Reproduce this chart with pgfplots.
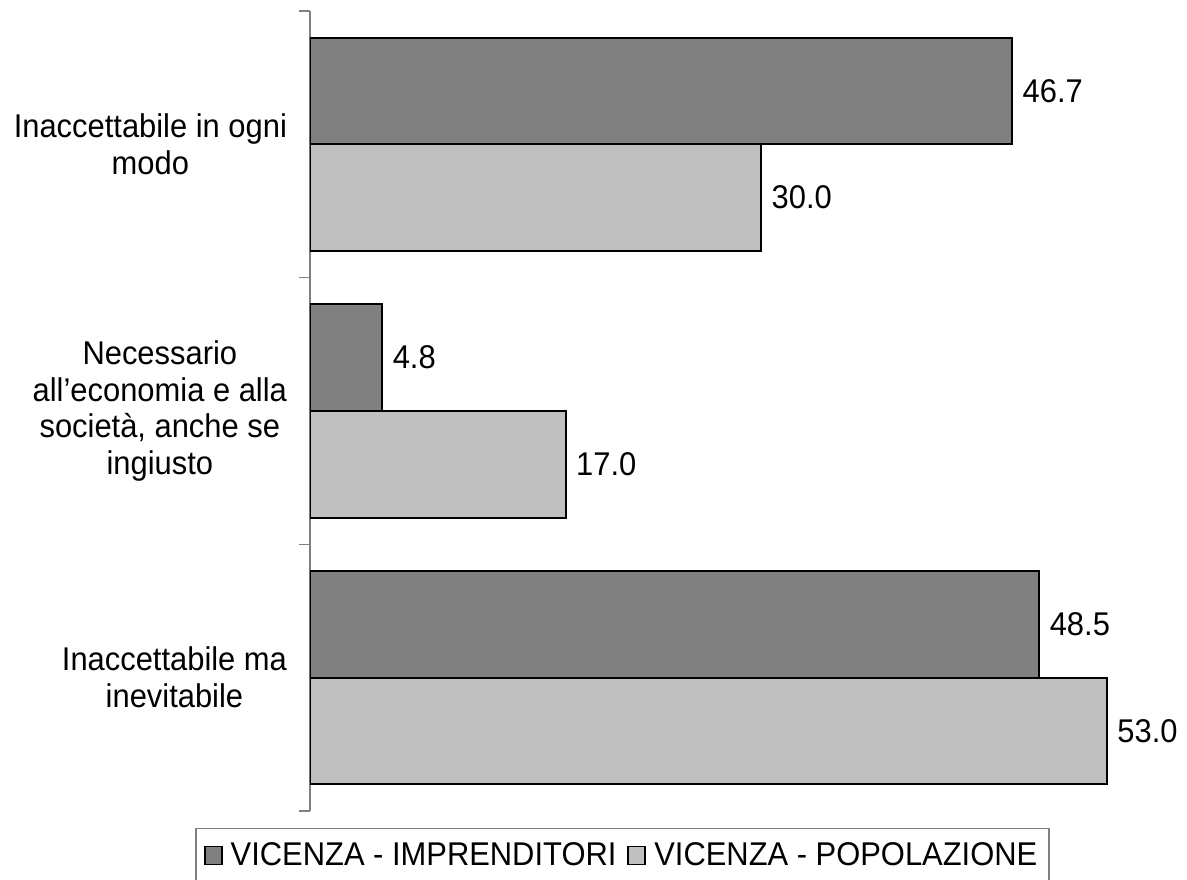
\documentclass[border=0pt]{standalone}
\usepackage{fontspec}
\setmainfont{Liberation Sans}[FakeStretch=0.94]
\usepackage{pgfplots}
\pgfplotsset{compat=1.18}
\definecolor{darkbar}{HTML}{808080}
\definecolor{lightbar}{HTML}{C0C0C0}
\definecolor{axgray}{HTML}{808080}
\newcommand{\chartfont}{\fontsize{16.5}{18.5}\selectfont}
\begin{document}
\begin{tikzpicture}
\path[use as bounding box] (-155bp,-34.5bp) rectangle (438.5bp,405.5bp);
\begin{axis}[
  scale only axis, width=436bp, height=400bp,
  xmin=0, xmax=58, ymin=0.5, ymax=3.5,
  xbar, bar width=0.4,
  axis y line*=left, axis x line=none,
  xtick=\empty,
  ytick={1,2,3},
  yticklabels={{Inaccettabile ma\\inevitabile},{Necessario\\all’economia e alla\\società, anche se\\ingiusto},{Inaccettabile in ogni\\modo}},
  minor ytick={0.5,1.5,2.5,3.5},
  major tick length=0pt, minor tick length=5.5bp, tick align=outside,
  y axis line style={axgray, line width=0.75bp},
  minor tick style={axgray, line width=0.75bp},
  yticklabel style={align=center, font=\chartfont, xshift=-8bp},
  nodes near coords={\pgfmathprintnumber[fixed,fixed zerofill,precision=1,assume math mode=true]{\pgfplotspointmeta}},
  every node near coord/.append style={font=\chartfont, anchor=west, black, xshift=1.5bp},
  legend columns=2,
  legend style={at={(0.3584,-0.0556)}, anchor=center, draw=axgray, line width=0.75bp,
    font=\chartfont, inner xsep=4bp, inner ysep=5bp,
    /tikz/every even column/.append style={column sep=3.5bp}},
  legend image code/.code={\draw[#1, line width=0.9bp] (0bp,-4.5bp) rectangle (8.5bp,4.5bp); \path (10.5bp,0bp);},
]
\addplot[fill=darkbar, draw=black, line width=1bp, bar shift=0.2] coordinates {(48.5,1) (4.8,2) (46.7,3)};
\addplot[fill=lightbar, draw=black, line width=1bp, bar shift=-0.2] coordinates {(53.0,1) (17.0,2) (30.0,3)};
\legend{VICENZA - IMPRENDITORI, VICENZA - POPOLAZIONE}
\end{axis}
\end{tikzpicture}
\end{document}
